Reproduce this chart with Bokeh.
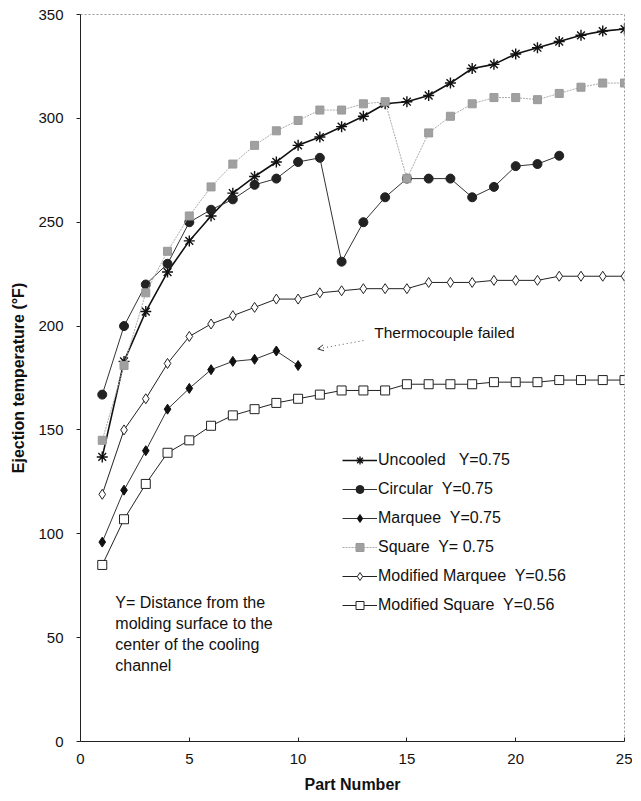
from bokeh.plotting import figure
from bokeh.models import (Range1d, FixedTicker, Legend, LegendItem, Label, Arrow,
                          OpenHead)
from bokeh.embed import file_html
from bokeh.resources import INLINE

parts = list(range(1, 26))

uncooled = [137, 183, 207, 226, 241, 253, 264, 272, 279, 287, 291, 296, 301, 307,
            308, 311, 317, 324, 326, 331, 334, 337, 340, 342, 343]
circular = [167, 200, 220, 230, 250, 256, 261, 268, 271, 279, 281, 231, 250, 262,
            271, 271, 271, 262, 267, 277, 278, 282]
marquee = [96, 121, 140, 160, 170, 179, 183, 184, 188, 181]
square = [145, 181, 216, 236, 253, 267, 278, 287, 294, 299, 304, 304, 307, 308,
          271, 293, 301, 307, 310, 310, 309, 312, 315, 317, 317]
mod_marquee = [119, 150, 165, 182, 195, 201, 205, 209, 213, 213, 216, 217, 218, 218,
               218, 221, 221, 221, 222, 222, 222, 224, 224, 224, 224]
mod_square = [85, 107, 124, 139, 145, 152, 157, 160, 163, 165, 167, 169, 169, 169,
              172, 172, 172, 172, 173, 173, 173, 174, 174, 174, 174]

labels = ["Uncooled   Y=0.75", "Circular  Y=0.75", "Marquee  Y=0.75",
          "Square  Y= 0.75", "Modified Marquee  Y=0.56", "Modified Square  Y=0.56"]

x_ticks = [0, 5, 10, 15, 20, 25]
y_ticks = [0, 50, 100, 150, 200, 250, 300, 350]

FONT = "Liberation Sans"

p = figure(width=632, height=797, output_backend="svg", toolbar_location=None,
           x_range=Range1d(0, 25), y_range=Range1d(0, 350),
           min_border_left=80, min_border_right=8, min_border_top=14,
           min_border_bottom=56)
p.grid.visible = False
p.outline_line_color = "#999999"
p.outline_line_dash = "2 2"
p.background_fill_color = "white"

for ax in (p.xaxis[0], p.yaxis[0]):
    ax.major_label_text_font = FONT
    ax.major_label_text_font_size = "15px"
    ax.major_label_text_color = "#111111"
    ax.axis_label_text_font = FONT
    ax.axis_label_text_font_size = "16px"
    ax.axis_label_text_font_style = "bold"
    ax.axis_label_text_color = "#111111"
    ax.minor_tick_line_color = None
    ax.axis_line_color = "#222222"
    ax.major_tick_line_color = "#222222"

p.xaxis.ticker = FixedTicker(ticks=x_ticks)
p.yaxis.ticker = FixedTicker(ticks=y_ticks)
p.xaxis.axis_label = "Part Number"
p.yaxis.axis_label = "Ejection temperature (°F)"
p.xaxis.major_tick_in = 4
p.xaxis.major_tick_out = 0
p.yaxis.major_tick_in = 0
p.yaxis.major_tick_out = 4
p.xaxis.major_label_standoff = 12
p.yaxis.major_label_standoff = 13
p.xaxis.axis_label_standoff = 9
p.yaxis.axis_label_standoff = 8

items = []

def series(ys, label, marker, size, line_color, line_width, line_dash,
           m_line, m_fill, m_lw=1.0):
    xs = parts[:len(ys)]
    r1 = p.line(xs, ys, line_color=line_color, line_width=line_width,
                line_dash=line_dash)
    r2 = p.scatter(xs, ys, marker=marker, size=size, line_color=m_line,
                   fill_color=m_fill, line_width=m_lw)
    items.append(LegendItem(label=label, renderers=[r1, r2]))

series(uncooled, labels[0], "asterisk", 11, "#111111", 1.6, "solid", "#111111", "#111111", 1.4)
series(circular, labels[1], "circle", 9, "#333333", 1.0, "solid", "#222222", "#222222")
series(marquee, labels[2], "diamond", 10, "#333333", 1.0, "solid", "#111111", "#111111")
series(square, labels[3], "square", 8, "#aaaaaa", 1.0, "2 1", "#999999", "#a0a0a0")
series(mod_marquee, labels[4], "diamond", 10, "#222222", 1.0, "solid", "#222222", "white")
series(mod_square, labels[5], "square", 9, "#222222", 1.0, "solid", "#222222", "white")

legend = Legend(items=items, location=(262, 126), padding=0, margin=0,
                spacing=9, glyph_width=35, glyph_height=20, label_height=20,
                label_standoff=1, background_fill_alpha=0, border_line_alpha=0,
                label_text_font=FONT, label_text_font_size="16px",
                label_text_color="#111111")
p.add_layout(legend, "center")

# annotation
p.add_layout(Label(x=13.5, y=197, text="Thermocouple failed", text_font=FONT,
                   text_font_size="15.5px", text_baseline="middle",
                   text_color="#111111"))
p.add_layout(Arrow(x_start=13.0, y_start=193, x_end=10.9, y_end=189,
                   line_color="#555555", line_width=1, line_dash="1 3",
                   end=OpenHead(size=6, line_color="#333333", line_width=1)))

foot = ["Y= Distance from the", "molding surface to the",
        "center of the cooling", "channel"]
for i, t in enumerate(foot):
    p.add_layout(Label(x=1.6, y=139 - 21 * i, y_units="screen", text=t,
                       text_font=FONT, text_font_size="16px",
                       text_baseline="middle", text_color="#111111"))

open("out.html", "w").write(file_html(p, INLINE))
